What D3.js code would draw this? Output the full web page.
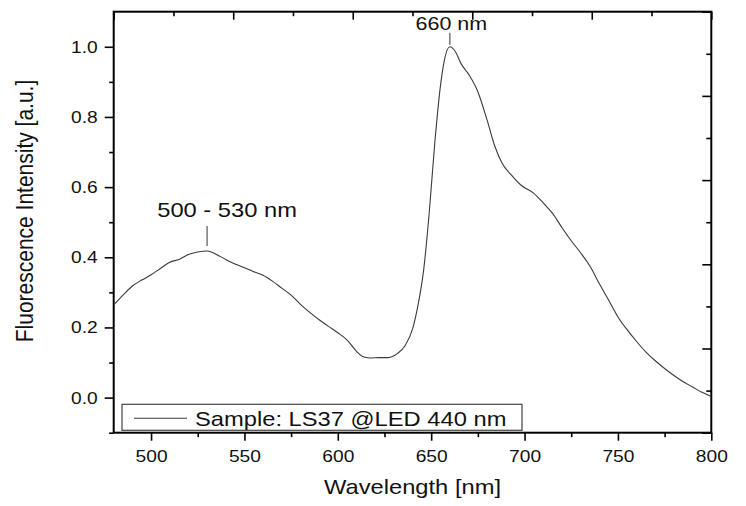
<!DOCTYPE html>
<html>
<head>
<meta charset="utf-8">
<script src="https://cdn.jsdelivr.net/npm/d3@7"></script>
<style>
  body { margin: 0; background: #fff; }
  text { font-family: "Liberation Sans", Arial, sans-serif; fill: #111; }
</style>
</head>
<body>
<div id="chart"></div>
<script>
// spectrum
const wavelength = [480, 485, 490, 495, 500, 505, 510, 515, 520, 525, 530, 535, 540, 545, 550, 555, 560, 565, 570, 575,
  580, 585, 590, 595, 600, 605, 610, 613, 617, 622, 627, 632, 636, 640, 643, 646, 649, 652, 655, 657,
  660, 663, 666, 670, 675, 680, 684, 688, 693, 698, 705, 710, 715, 720, 725, 730, 735, 740, 745, 750,
  755, 760, 765, 770, 775, 780, 785, 790, 795, 800];
const intensity = [0.264, 0.292, 0.318, 0.335, 0.350, 0.368, 0.386, 0.394, 0.408, 0.415, 0.418, 0.408, 0.394, 0.381, 0.370, 0.359, 0.349, 0.332, 0.312, 0.292,
  0.266, 0.243, 0.222, 0.203, 0.185, 0.164, 0.132, 0.118, 0.113, 0.114, 0.114, 0.126, 0.148, 0.195, 0.265, 0.365, 0.530, 0.730, 0.890, 0.960,
  1.000, 0.986, 0.952, 0.922, 0.872, 0.790, 0.718, 0.668, 0.634, 0.606, 0.582, 0.555, 0.525, 0.485, 0.447, 0.413, 0.375, 0.325, 0.278, 0.230,
  0.193, 0.160, 0.130, 0.105, 0.083, 0.063, 0.045, 0.030, 0.015, 0.003];

const xTicks = [500, 550, 600, 650, 700, 750, 800];
const xMinorTicks = [525, 575, 625, 675, 725, 775];
const yTicks = [0, 0.2, 0.4, 0.6, 0.8, 1.0];
const yMinorTicks = [-0.1, 0.1, 0.3, 0.5, 0.7, 0.9];
// top / right axes carry their own unlabeled tick grid
const frameMajor = [0, 2, 4, 6, 8, 10];
const frameMinor = [1, 3, 5, 7, 9];

const peakLabels = ['660 nm', '500 - 530 nm'];
const peakX = [660, 530];
const peakY = [1.0, 0.418];

const legendLabel = 'Sample: LS37 @LED 440 nm';
const xTitle = 'Wavelength [nm]';
const yTitle = 'Fluorescence Intensity [a.u.]';

const outerW = 746, outerH = 506;
const margin = { left: 113.7, right: 34.7, top: 11.7, bottom: 73.3 };
const w = outerW - margin.left - margin.right;
const h = outerH - margin.top - margin.bottom;
const stretch = 1.13;

const svg = d3.select('#chart').append('svg')
    .attr('width', outerW)
    .attr('height', outerH);

const g = svg.append('g')
    .attr('transform', 'translate(' + margin.left + ',' + margin.top + ')');

const x = d3.scaleLinear().domain([480, 800]).range([0, w]);
const y = d3.scaleLinear().domain([-0.1, 1.1]).range([h, 0]);
const xTop = d3.scaleLinear().domain([0, 10]).range([0, w]);
const yRight = d3.scaleLinear().domain([0, 10]).range([h, 0]);

// widen glyphs a little, like the original export
function widen(sel) {
    sel.each(function() {
        const t = d3.select(this);
        const tx = +t.attr('x') || 0;
        t.attr('x', 0).attr('transform', 'translate(' + tx + ',0) scale(' + stretch + ',1)');
    });
}

function styleAxis(ax) {
    ax.select('.domain').remove();
    ax.selectAll('line').attr('stroke', '#000').attr('stroke-width', 1.6);
}

// minor ticks
styleAxis(g.append('g').attr('transform', 'translate(0,' + h + ')')
    .call(d3.axisBottom(x).tickValues(xMinorTicks).tickSize(4.5).tickFormat('')));
styleAxis(g.append('g')
    .call(d3.axisLeft(y).tickValues(yMinorTicks).tickSize(4.5).tickFormat('')));
styleAxis(g.append('g')
    .call(d3.axisBottom(xTop).tickValues(frameMinor).tickSize(4.5).tickFormat('')));
styleAxis(g.append('g').attr('transform', 'translate(' + w + ',0)')
    .call(d3.axisLeft(yRight).tickValues(frameMinor).tickSize(5).tickFormat('')));

// major ticks
const xAxis = g.append('g').attr('transform', 'translate(0,' + h + ')')
    .call(d3.axisBottom(x).tickValues(xTicks).tickSize(8).tickPadding(9).tickFormat(d3.format('d')));
styleAxis(xAxis);
xAxis.selectAll('text').style('font-size', '17px').attr('fill', '#111').call(widen);

const yAxis = g.append('g')
    .call(d3.axisLeft(y).tickValues(yTicks).tickSize(9).tickPadding(7).tickFormat(d3.format('.1f')));
styleAxis(yAxis);
yAxis.selectAll('text').style('font-size', '17px').attr('fill', '#111').call(widen);

styleAxis(g.append('g')
    .call(d3.axisBottom(xTop).tickValues(frameMajor).tickSize(8).tickFormat('')));
styleAxis(g.append('g').attr('transform', 'translate(' + w + ',0)')
    .call(d3.axisLeft(yRight).tickValues(frameMajor).tickSize(9).tickFormat('')));

// frame
g.append('rect')
    .attr('width', w)
    .attr('height', h)
    .attr('fill', 'none')
    .attr('stroke', '#000')
    .attr('stroke-width', 2);

// spectrum
const points = wavelength.map((d, i) => [d, intensity[i]]);
const line = d3.line()
    .x(d => x(d[0]))
    .y(d => y(d[1]))
    .curve(d3.curveMonotoneX);

g.append('path')
    .datum(points)
    .attr('d', line)
    .attr('fill', 'none')
    .attr('stroke', '#3a3a3a')
    .attr('stroke-width', 1.1);

// peak annotations
const gap = [2, 5], len = [12, 20], fs = [19, 21], textUp = [3, 9], textShift = [1.5, 20];
peakLabels.forEach((lab, i) => {
    const px = x(peakX[i]), py = y(peakY[i]);
    g.append('line')
        .attr('x1', px).attr('x2', px)
        .attr('y1', py - gap[i]).attr('y2', py - gap[i] - len[i])
        .attr('stroke', '#555')
        .attr('stroke-width', 1.2);
    g.append('text')
        .attr('transform', 'translate(' + (px + textShift[i]) + ',' + (py - gap[i] - len[i] - textUp[i]) + ') scale(' + stretch + ',1)')
        .attr('text-anchor', 'middle')
        .style('font-size', fs[i] + 'px')
        .text(lab);
});

// legend
const legend = g.append('g')
    .attr('transform', 'translate(' + (x(480) + 8.3) + ',' + (y(-0.1) - 28.4) + ')');
legend.append('rect')
    .attr('width', 400)
    .attr('height', 26)
    .attr('fill', '#fff')
    .attr('stroke', '#444')
    .attr('stroke-width', 1.2);
legend.append('line')
    .attr('x1', 12).attr('x2', 65)
    .attr('y1', 14).attr('y2', 14)
    .attr('stroke', '#3a3a3a')
    .attr('stroke-width', 1.1);
legend.append('text')
    .attr('transform', 'translate(73,21.5) scale(' + stretch + ',1)')
    .style('font-size', '21px')
    .text(legendLabel);

// axis titles
svg.append('text')
    .attr('transform', 'translate(' + (margin.left + w / 2) + ',494) scale(' + stretch + ',1)')
    .attr('text-anchor', 'middle')
    .style('font-size', '21px')
    .text(xTitle);

svg.append('text')
    .attr('transform', 'translate(33,211) scale(' + stretch + ',1) rotate(-90)')
    .attr('text-anchor', 'middle')
    .style('font-size', '21px')
    .text(yTitle);
</script>
</body>
</html>
